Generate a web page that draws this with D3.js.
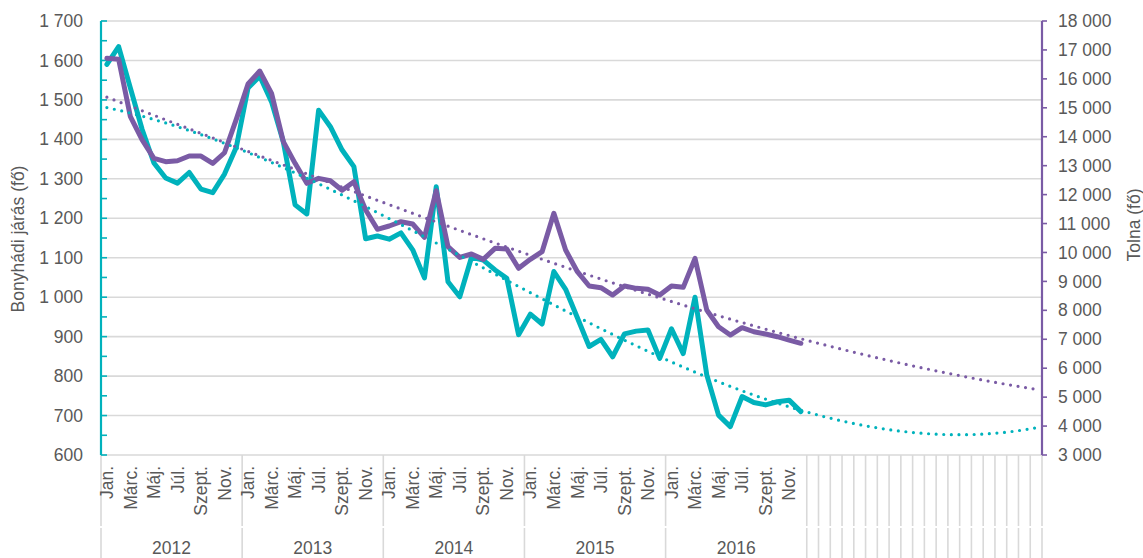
<!DOCTYPE html>
<html>
<head>
<meta charset="utf-8">
<script src="https://cdn.jsdelivr.net/npm/d3@7"></script>
<style>
  html, body { margin: 0; padding: 0; background: #ffffff; }
  svg { display: block; font-family: "Liberation Sans", Arial, sans-serif; }
</style>
</head>
<body>
<svg id="chart" width="1143" height="558"></svg>
<script>
// ---------------- DATA ----------------
const years = ["2012", "2013", "2014", "2015", "2016"];
const monthLabels = ["Jan.", "", "Márc.", "", "Máj.", "", "Júl.", "", "Szept.", "", "Nov.", ""];
const forecastPeriods = 20;
const trendOrder = 3;

// Bonyhádi járás (fő) – left axis, monthly 2012 Jan – 2016 Dec
const bonyhad = [
  1590, 1635, 1530, 1425, 1340, 1302, 1289, 1316, 1274, 1265, 1312, 1380,
  1530, 1560, 1495, 1394, 1234, 1211, 1474, 1432, 1373, 1331, 1148, 1155,
  1147, 1163, 1120, 1049, 1280, 1039, 1001, 1101, 1094, 1069, 1048, 905,
  957, 932, 1065, 1020, 948, 875, 893, 849, 907, 914, 917, 845,
  920, 857, 1000, 803, 701, 672, 748, 733, 727, 735, 739, 710
];

// Tolna (fő) – right axis
const tolna = [
  16710, 16675, 14692, 13890, 13254, 13137, 13171, 13334, 13334, 13081, 13447, 14600,
  15822, 16270, 15500, 13830, 13080, 12390, 12562, 12480, 12150, 12445, 11467, 10800,
  10914, 11063, 10983, 10523, 12134, 10199, 9830, 9946, 9762, 10143, 10120, 9452,
  9762, 10028, 11353, 10084, 9335, 8840, 8781, 8529, 8840, 8760, 8726, 8529,
  8840, 8795, 9797, 8010, 7433, 7146, 7400, 7260, 7181, 7089, 6973, 6860
];

const leftTicks = [600, 700, 800, 900, 1000, 1100, 1200, 1300, 1400, 1500, 1600, 1700];
const rightTicks = [3000, 4000, 5000, 6000, 7000, 8000, 9000, 10000, 11000, 12000, 13000, 14000, 15000, 16000, 17000, 18000];
const leftTitle = "Bonyhádi járás (fő)";
const rightTitle = "Tolna (fő)";

(function () {
// ---------------- STYLE ----------------
const TEAL = "#00B2BC";
const PURPLE = "#7A5BA5";
const GRID = "#d9d9d9";
const TEXT = "#595959";
const FS = 17.5;

const svg = d3.select("#chart");
const H = 558;
const pL = 101, pR = 1042, pT = 21, pB = 455;

const nData = bonyhad.length;
const nCat = nData + forecastPeriods;

const x = d3.scaleBand().domain(d3.range(nCat)).range([pL, pR]).paddingInner(0).paddingOuter(0);
const xc = i => x(i) + x.bandwidth() / 2;
const yL = d3.scaleLinear().domain([600, 1700]).range([pB, pT]);
const yR = d3.scaleLinear().domain([3000, 18000]).range([pB, pT]);

const fmt = v => d3.format(",")(v).replace(/,/g, " ");

// gridlines
svg.append("g").selectAll("line").data(leftTicks).join("line")
  .attr("x1", pL).attr("x2", pR)
  .attr("y1", d => yL(d)).attr("y2", d => yL(d))
  .attr("stroke", GRID).attr("stroke-width", 1.6);

// category separators below the axis
const sepG = svg.append("g");
const yearBounds = d3.range(years.length + 1).map(k => k * 12);
const emptyBounds = d3.range(nData + 1, nCat + 1);
const bounds = yearBounds.concat(emptyBounds);
bounds.forEach(b => {
  const bx = b < nCat ? x(b) : pR;
  sepG.append("line").attr("x1", bx).attr("x2", bx).attr("y1", pB).attr("y2", 526)
    .attr("stroke", GRID).attr("stroke-width", 1.6);
  sepG.append("line").attr("x1", bx).attr("x2", bx).attr("y1", 528).attr("y2", H)
    .attr("stroke", GRID).attr("stroke-width", 1.6);
});

// month labels
const monthG = svg.append("g").attr("fill", TEXT).attr("font-size", FS);
d3.range(nData).forEach(i => {
  const lab = monthLabels[i % 12];
  if (!lab) return;
  monthG.append("text")
    .attr("transform", `translate(${xc(i)},${pB + 11}) rotate(-90)`)
    .attr("text-anchor", "end")
    .attr("dy", "0.35em")
    .text(lab);
});

// year labels
svg.append("g").attr("fill", TEXT).attr("font-size", FS)
  .selectAll("text").data(years).join("text")
  .attr("x", (d, k) => (x(k * 12) + (k * 12 + 12 < nCat ? x(k * 12 + 12) : pR)) / 2)
  .attr("y", 554)
  .attr("text-anchor", "middle")
  .text(d => d);

// left axis
const minorLeft = d3.range(600, 1701, 50);
svg.append("g").selectAll("line").data(minorLeft).join("line")
  .attr("x1", pL).attr("x2", pL + 6)
  .attr("y1", d => yL(d)).attr("y2", d => yL(d))
  .attr("stroke", TEAL).attr("stroke-width", 1.6);
svg.append("line").attr("x1", pL).attr("x2", pL).attr("y1", pT).attr("y2", pB)
  .attr("stroke", TEAL).attr("stroke-width", 2.2);
svg.append("g").attr("fill", TEXT).attr("font-size", FS)
  .selectAll("text").data(leftTicks).join("text")
  .attr("x", 83).attr("y", d => yL(d)).attr("dy", "0.35em")
  .attr("text-anchor", "end").text(d => fmt(d));

// right axis
svg.append("g").selectAll("line").data(rightTicks).join("line")
  .attr("x1", pR).attr("x2", pR + 5)
  .attr("y1", d => yR(d)).attr("y2", d => yR(d))
  .attr("stroke", PURPLE).attr("stroke-width", 1.6);
svg.append("line").attr("x1", pR).attr("x2", pR).attr("y1", pT).attr("y2", pB)
  .attr("stroke", PURPLE).attr("stroke-width", 2.2);
svg.append("g").attr("fill", TEXT).attr("font-size", FS)
  .selectAll("text").data(rightTicks).join("text")
  .attr("x", 1058).attr("y", d => yR(d)).attr("dy", "0.35em")
  .attr("text-anchor", "start").text(d => fmt(d));

// axis titles
svg.append("text").attr("transform", `translate(24,239) rotate(-90)`)
  .attr("text-anchor", "middle").attr("fill", TEXT).attr("font-size", FS).text(leftTitle);
svg.append("text").attr("transform", `translate(1140,225) rotate(-90)`)
  .attr("text-anchor", "middle").attr("fill", TEXT).attr("font-size", FS).text(rightTitle);

// least-squares polynomial trend (as Excel polynomial trendline), t = 1..n
function polyFit(vals, order) {
  const n = vals.length, m = order + 1;
  const A = [];
  for (let r = 0; r < m; r++) A.push(new Array(m + 1).fill(0));
  vals.forEach((v, k) => {
    const u = (k + 1) / n;
    for (let r = 0; r < m; r++) {
      for (let c = 0; c < m; c++) A[r][c] += Math.pow(u, r + c);
      A[r][m] += v * Math.pow(u, r);
    }
  });
  for (let c = 0; c < m; c++) {
    let p = c;
    for (let r = c + 1; r < m; r++) if (Math.abs(A[r][c]) > Math.abs(A[p][c])) p = r;
    [A[c], A[p]] = [A[p], A[c]];
    for (let r = c + 1; r < m; r++) {
      const f = A[r][c] / A[c][c];
      for (let k = c; k <= m; k++) A[r][k] -= f * A[c][k];
    }
  }
  const s = new Array(m).fill(0);
  for (let r = m - 1; r >= 0; r--) {
    let z = A[r][m];
    for (let k = r + 1; k < m; k++) z -= A[r][k] * s[k];
    s[r] = z / A[r][r];
  }
  return t => { const u = t / n; let y = 0; for (let r = 0; r < m; r++) y += s[r] * Math.pow(u, r); return y; };
}

// series lines
const lineL = d3.line().x((d, i) => xc(i)).y(d => yL(d));
const lineR = d3.line().x((d, i) => xc(i)).y(d => yR(d));

svg.append("path").datum(bonyhad).attr("d", lineL)
  .attr("fill", "none").attr("stroke", TEAL).attr("stroke-width", 5)
  .attr("stroke-linejoin", "round").attr("stroke-linecap", "round");
svg.append("path").datum(tolna).attr("d", lineR)
  .attr("fill", "none").attr("stroke", PURPLE).attr("stroke-width", 5)
  .attr("stroke-linejoin", "round").attr("stroke-linecap", "round");

// trend lines
const fL = polyFit(bonyhad, trendOrder);
const fR = polyFit(tolna, trendOrder);
const trendL = d3.range(nCat).map(i => fL(i + 1));
const trendR = d3.range(nCat).map(i => fR(i + 1));

svg.append("path").datum(trendL).attr("d", lineL.curve(d3.curveMonotoneX))
  .attr("fill", "none").attr("stroke", TEAL).attr("stroke-width", 3.2)
  .attr("stroke-linecap", "round").attr("stroke-dasharray", "0 7.6");
svg.append("path").datum(trendR).attr("d", lineR.curve(d3.curveMonotoneX))
  .attr("fill", "none").attr("stroke", PURPLE).attr("stroke-width", 3.2)
  .attr("stroke-linecap", "round").attr("stroke-dasharray", "0 7.6");
})();
</script>
</body>
</html>
